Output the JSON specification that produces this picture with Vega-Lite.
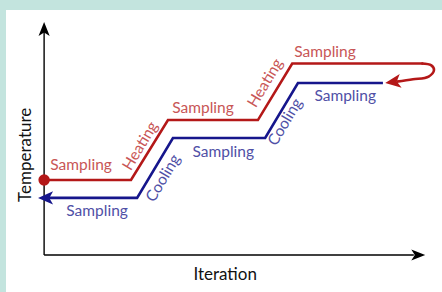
{
  "$schema": "https://vega.github.io/schema/vega-lite/v6.json",
  "width": 442,
  "height": 292,
  "autosize": {"type": "fit", "contains": "padding"},
  "padding": {"left": 6, "top": 10, "right": 0, "bottom": 0},
  "background": "#c3e4de",
  "config": {"view": {"fill": "white", "stroke": null}, "text": {"font": "Lato"}},
  "datasets": {
    "paths": [
      {"series": "xaxis", "order": 1, "iter": 0, "temp": 0},
      {"series": "xaxis", "order": 2, "iter": 97, "temp": 0},
      {"series": "yaxis", "order": 1, "iter": 0, "temp": 0},
      {"series": "yaxis", "order": 2, "iter": 0, "temp": 96},
      {"series": "red", "order": 1, "iter": 0, "temp": 32.2},
      {"series": "red", "order": 2, "iter": 22.8, "temp": 32.2},
      {"series": "red", "order": 3, "iter": 32.5, "temp": 57.9},
      {"series": "red", "order": 4, "iter": 56.1, "temp": 57.9},
      {"series": "red", "order": 5, "iter": 65.1, "temp": 82.2},
      {"series": "red", "order": 6, "iter": 99.5, "temp": 82.2},
      {"series": "redloop", "order": 1, "iter": 99.0, "temp": 82.2},
      {"series": "redloop", "order": 2, "iter": 101.6, "temp": 81.4},
      {"series": "redloop", "order": 3, "iter": 102.3, "temp": 79.4},
      {"series": "redloop", "order": 4, "iter": 100.9, "temp": 76.6},
      {"series": "redloop", "order": 5, "iter": 96.8, "temp": 75.4},
      {"series": "redloop", "order": 6, "iter": 92.5, "temp": 74.4},
      {"series": "blue", "order": 1, "iter": 0.5, "temp": 24.5},
      {"series": "blue", "order": 2, "iter": 24.4, "temp": 24.5},
      {"series": "blue", "order": 3, "iter": 33.8, "temp": 50.2},
      {"series": "blue", "order": 4, "iter": 58.0, "temp": 50.2},
      {"series": "blue", "order": 5, "iter": 66.6, "temp": 73.8},
      {"series": "blue", "order": 6, "iter": 88.9, "temp": 73.8}
    ],
    "heads": [
      {"name": "yaxis", "iter": 0, "temp": 100, "heading": 0},
      {"name": "xaxis", "iter": 100, "temp": 0, "heading": 90},
      {"name": "blue", "iter": -1.6, "temp": 24.5, "heading": 270},
      {"name": "red", "iter": 89.5, "temp": 73.8, "heading": 262}
    ],
    "labels": [
      {"text": "Sampling", "phase": "heat", "kind": "flat", "iter": 9.7, "temp": 38.6},
      {"text": "Heating", "phase": "heat", "kind": "slope", "iter": 25.2, "temp": 46.8},
      {"text": "Sampling", "phase": "heat", "kind": "flat", "iter": 41.7, "temp": 63.1},
      {"text": "Heating", "phase": "heat", "kind": "slope", "iter": 58.0, "temp": 73.8},
      {"text": "Sampling", "phase": "heat", "kind": "flat", "iter": 73.7, "temp": 87.1},
      {"text": "Sampling", "phase": "cool", "kind": "flat", "iter": 13.9, "temp": 18.9},
      {"text": "Cooling", "phase": "cool", "kind": "slope", "iter": 31.2, "temp": 33.0},
      {"text": "Sampling", "phase": "cool", "kind": "flat", "iter": 47.0, "temp": 44.2},
      {"text": "Cooling", "phase": "cool", "kind": "slope", "iter": 63.2, "temp": 57.1},
      {"text": "Sampling", "phase": "cool", "kind": "flat", "iter": 79.0, "temp": 68.2}
    ],
    "titles": [
      {"text": "Iteration", "kind": "x", "iter": 47.5, "temp": -8.6},
      {"text": "Temperature", "kind": "y", "iter": -4.75, "temp": 43.0}
    ]
  },
  "encoding": {
    "x": {"field": "iter", "type": "quantitative", "scale": {"domain": [-10, 104.4], "nice": false, "zero": false}, "axis": null},
    "y": {"field": "temp", "type": "quantitative", "scale": {"domain": [-15.9, 105.15], "nice": false, "zero": false}, "axis": null}
  },
  "layer": [
    {
      "data": {"name": "paths"},
      "transform": [{"filter": "datum.series === 'xaxis' || datum.series === 'yaxis'"}],
      "mark": {"type": "line", "color": "black", "strokeWidth": 1.4},
      "encoding": {"detail": {"field": "series"}, "order": {"field": "order"}}
    },
    {
      "data": {"name": "paths"},
      "transform": [{"filter": "datum.series === 'red'"}],
      "mark": {"type": "line", "color": "#b41818", "strokeWidth": 2.6, "strokeJoin": "miter", "strokeCap": "butt"},
      "encoding": {"order": {"field": "order"}}
    },
    {
      "data": {"name": "paths"},
      "transform": [{"filter": "datum.series === 'redloop'"}],
      "mark": {"type": "line", "color": "#b41818", "strokeWidth": 2.6, "interpolate": "catmull-rom", "strokeCap": "butt"},
      "encoding": {"order": {"field": "order"}}
    },
    {
      "data": {"name": "paths"},
      "transform": [{"filter": "datum.series === 'blue'"}],
      "mark": {"type": "line", "color": "#16168c", "strokeWidth": 2.6, "strokeJoin": "miter", "strokeCap": "butt"},
      "encoding": {"order": {"field": "order"}}
    },
    {
      "data": {"name": "paths"},
      "transform": [{"filter": "datum.series === 'red' && datum.order === 1"}],
      "mark": {"type": "point", "filled": true, "opacity": 1, "color": "#b41818", "size": 130}
    },
    {
      "data": {"name": "heads"},
      "transform": [{"filter": "datum.name === 'xaxis' || datum.name === 'yaxis'"}],
      "mark": {"type": "point", "filled": true, "opacity": 1, "color": "black", "size": 240, "shape": "M0,0L0.72,1.8L0,1.35L-0.72,1.8Z"},
      "encoding": {"angle": {"field": "heading", "type": "quantitative", "scale": null}}
    },
    {
      "data": {"name": "heads"},
      "transform": [{"filter": "datum.name === 'blue'"}],
      "mark": {"type": "point", "filled": true, "opacity": 1, "color": "#16168c", "size": 280, "shape": "M0,0L0.8,1.8L0,1.35L-0.8,1.8Z"},
      "encoding": {"angle": {"field": "heading", "type": "quantitative", "scale": null}}
    },
    {
      "data": {"name": "heads"},
      "transform": [{"filter": "datum.name === 'red'"}],
      "mark": {"type": "point", "filled": true, "opacity": 1, "color": "#b41818", "size": 300, "shape": "M0,0L0.8,1.8L0,1.35L-0.8,1.8Z"},
      "encoding": {"angle": {"field": "heading", "type": "quantitative", "scale": null}}
    },
    {
      "data": {"name": "labels"},
      "transform": [{"filter": "datum.kind === 'flat'"}],
      "mark": {"type": "text", "fontSize": 15.5, "align": "center", "baseline": "middle"},
      "encoding": {
        "text": {"field": "text"},
        "color": {"field": "phase", "type": "nominal", "scale": {"domain": ["heat", "cool"], "range": ["#c85656", "#5050a6"]}, "legend": null}
      }
    },
    {
      "data": {"name": "labels"},
      "transform": [{"filter": "datum.kind === 'slope'"}],
      "mark": {"type": "text", "fontSize": 15.5, "align": "center", "baseline": "middle", "angle": 301},
      "encoding": {
        "text": {"field": "text"},
        "color": {"field": "phase", "type": "nominal", "scale": {"domain": ["heat", "cool"], "range": ["#c85656", "#5050a6"]}, "legend": null}
      }
    },
    {
      "data": {"name": "titles"},
      "transform": [{"filter": "datum.kind === 'x'"}],
      "mark": {"type": "text", "fontSize": 17, "align": "center", "baseline": "middle", "color": "#111"},
      "encoding": {"text": {"field": "text"}}
    },
    {
      "data": {"name": "titles"},
      "transform": [{"filter": "datum.kind === 'y'"}],
      "mark": {"type": "text", "fontSize": 17, "align": "center", "baseline": "middle", "color": "#111", "angle": 270},
      "encoding": {"text": {"field": "text"}}
    }
  ]
}
